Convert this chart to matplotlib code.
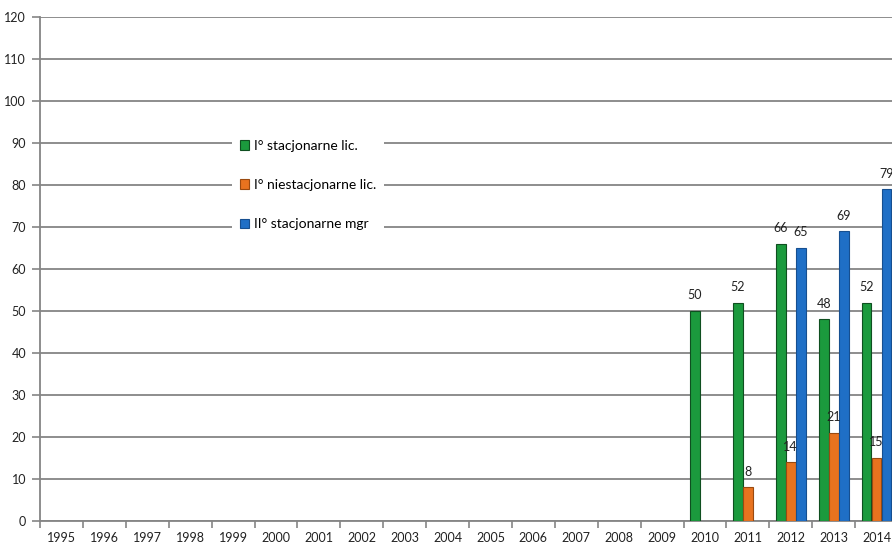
import numpy as np
import matplotlib
matplotlib.use("Agg")
import matplotlib.pyplot as plt

years = [str(y) for y in range(1995, 2015)]
nan = np.nan
green_vals = [nan]*15 + [50, 52, 66, 48, 52]
orange_vals = [nan]*16 + [8, 14, 21, 15]
blue_vals = [nan]*17 + [65, 69, 79]
series_names = ["I° stacjonarne lic.", "I° niestacjonarne lic.", "II° stacjonarne mgr"]
colors = ["#1b9a3d", "#e8731f", "#1f6fc6"]
edges = ["#0f4f20", "#9a4a10", "#164f90"]

plt.rcParams['font.family'] = ['Lato', 'DejaVu Sans']

fig = plt.figure(figsize=(8.92, 5.44), dpi=100)
ax = fig.add_axes([40/892, 23/544, (898-40)/892, (521-17)/544])
ax.set_xlim(-0.5, 19.5)
ax.set_ylim(0, 120)
ax.set_yticks(range(0, 121, 10))
ax.yaxis.grid(True, color="#858585", linewidth=1.3)
ax.set_axisbelow(True)

x = np.arange(len(years))
w = 0.233
for vals, off, c, ec, name in zip([green_vals, orange_vals, blue_vals], [-w, 0, w], colors, edges, series_names):
    v = np.array(vals, dtype=float)
    ax.bar(x + off, v, width=w*0.98, color=c, edgecolor=ec, linewidth=0.8, label=name, zorder=3)
    for xi, vi in zip(x + off, v):
        if not np.isnan(vi):
            ax.text(xi, vi + 2.3, f"{int(vi)}", ha="center", va="bottom", fontsize=9, color="#222222", zorder=4)

ax.set_xticks(x)
ax.set_xticklabels(years, fontsize=9, color="#222222")
ax.set_xticks(np.arange(-0.5, 20, 1), minor=True)
ax.tick_params(axis="x", which="major", length=0, pad=8)
ax.tick_params(axis="x", which="minor", length=5, color="#858585", width=1.2)
ax.tick_params(axis="y", length=6, color="#858585", width=1.2, labelsize=9, labelcolor="#222222", pad=4)
for s in ["top", "right"]:
    ax.spines[s].set_visible(False)
for s in ["left", "bottom"]:
    ax.spines[s].set_color("#858585")
    ax.spines[s].set_linewidth(1.3)

leg = ax.legend(loc="center left", bbox_to_anchor=((232-40)/858, 0.6667), frameon=True, facecolor="white",
                edgecolor="none", framealpha=1, fontsize=10, handlelength=0.65, handleheight=0.65,
                handletextpad=0.3, labelspacing=1.95, borderpad=0.6, borderaxespad=0)
leg.set_zorder(5)

fig.savefig("out.png", dpi=100)
